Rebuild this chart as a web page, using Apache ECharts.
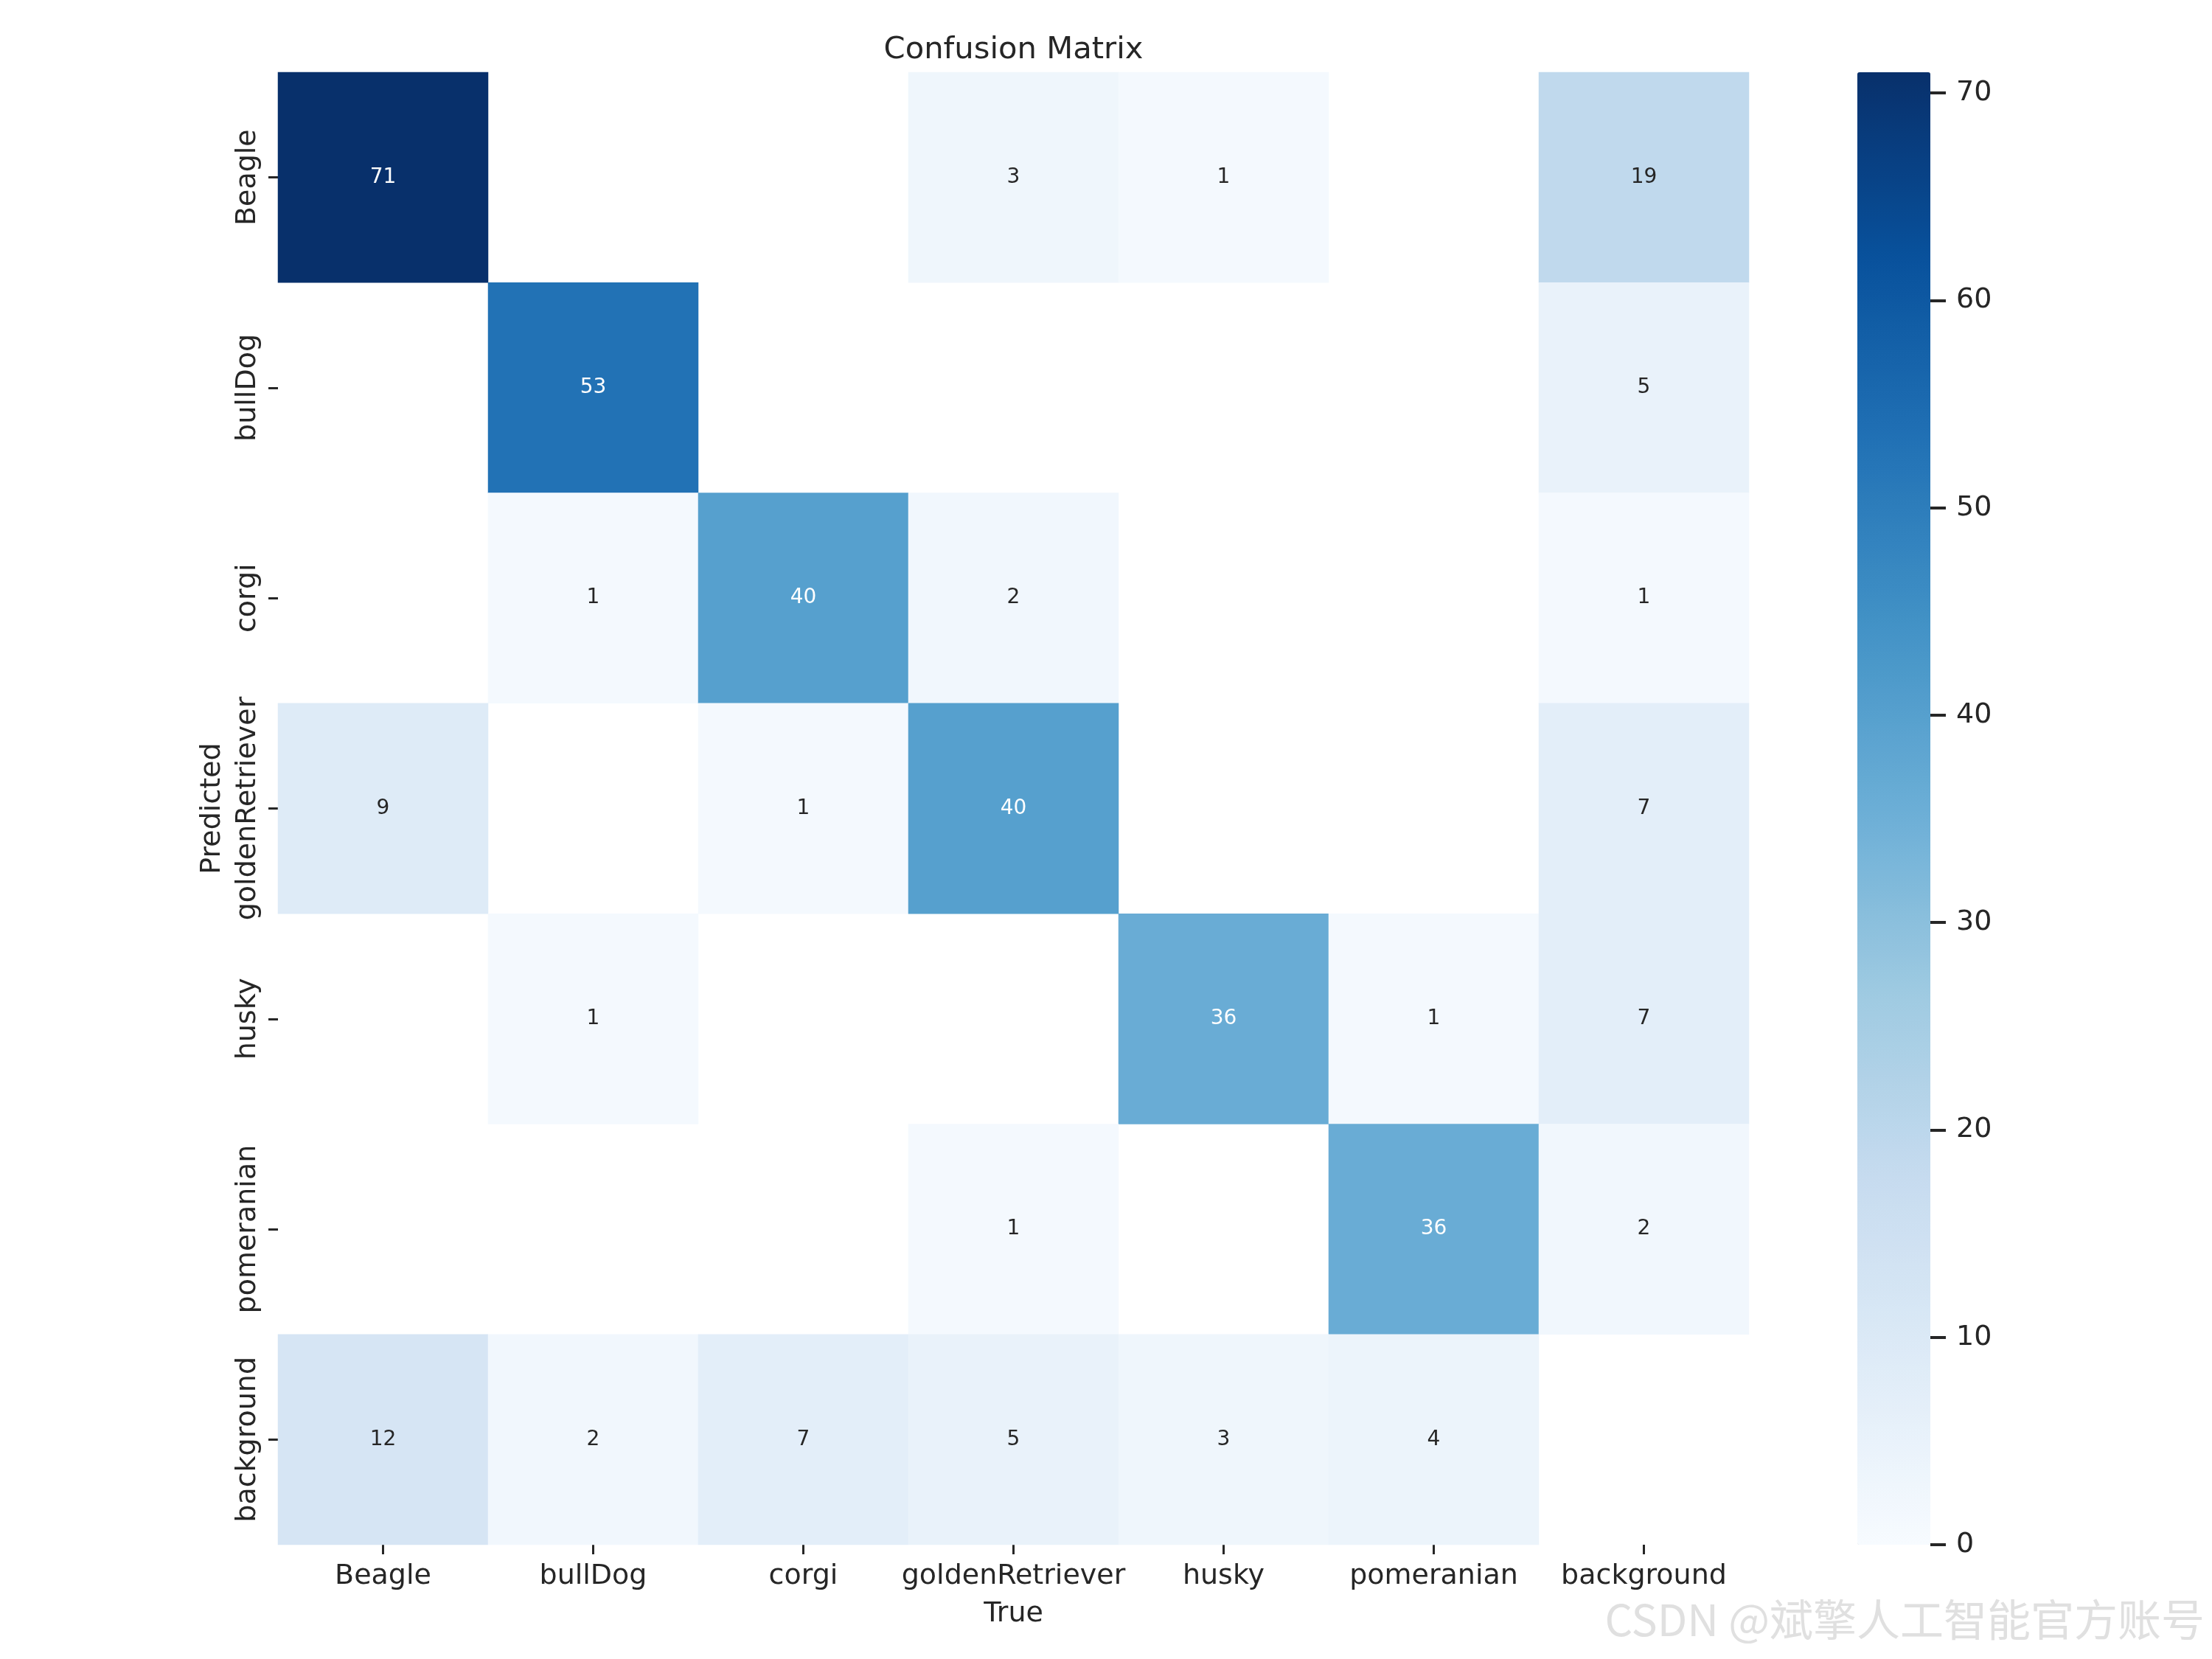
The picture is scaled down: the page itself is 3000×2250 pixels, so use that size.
<!DOCTYPE html>
<html>
<head>
<meta charset="utf-8">
<script src="https://cdn.jsdelivr.net/npm/echarts@6/dist/echarts.min.js"></script>
<style>
html,body{margin:0;padding:0;background:#fff;}
#chart{width:3000px;height:2250px;}
</style>
</head>
<body>
<div id="chart"></div>
<script>
// Categories (same order for Predicted rows and True columns)
const categories = ['Beagle', 'bullDog', 'corgi', 'goldenRetriever', 'husky', 'pomeranian', 'background'];

// Rows = Predicted, columns = True (0 = empty cell)
const predBeagle          = [71, 0, 0, 3, 1, 0, 19];
const predBullDog         = [0, 53, 0, 0, 0, 0, 5];
const predCorgi           = [0, 1, 40, 2, 0, 0, 1];
const predGoldenRetriever = [9, 0, 1, 40, 0, 0, 7];
const predHusky           = [0, 1, 0, 0, 36, 1, 7];
const predPomeranian      = [0, 0, 0, 1, 0, 36, 2];
const predBackground      = [12, 2, 7, 5, 3, 4, 0];

// Colorbar tick labels
const colorbarTicks = [0, 10, 20, 30, 40, 50, 60, 70];

const matrix = [predBeagle, predBullDog, predCorgi, predGoldenRetriever, predHusky, predPomeranian, predBackground];
const vmax = Math.max(...matrix.map(r => Math.max(...r)));
const tickMax = colorbarTicks[colorbarTicks.length - 1];
const tickStep = colorbarTicks[1] - colorbarTicks[0];

const blues = ['#f7fbff', '#deebf7', '#c6dbef', '#9ecae1', '#6baed6', '#4292c6', '#2171b5', '#08519c', '#08306b'];

const cells = [];
matrix.forEach((row, r) => {
  row.forEach((v, c) => {
    if (v > 0) {
      cells.push({
        value: [c, r, v],
        label: { color: (v / vmax) > 0.47 ? '#ffffff' : '#262626' }
      });
    }
  });
});

const FONT = 'DejaVu Sans';
const TXT = '#262626';

// layout
const PLOT_TOP = 98, PLOT_H = 1997;
const CB_LEFT = 2519, CB_W = 99;
const cbAxisH = PLOT_H * tickMax / vmax;
const cbAxisTop = PLOT_TOP + PLOT_H - cbAxisH;

const chart = echarts.init(document.getElementById('chart'), null, { renderer: 'canvas' });
chart.setOption({
  animation: false,
  backgroundColor: '#ffffff',
  textStyle: { fontFamily: FONT },
  title: {
    text: 'Confusion Matrix',
    left: 1374.5,
    textAlign: 'center',
    top: 47,
    padding: 0,
    textStyle: { fontFamily: FONT, fontSize: 41.7, fontWeight: 'normal', color: TXT }
  },
  grid: [
    { left: 377, top: PLOT_TOP, width: 1995, height: PLOT_H },
    { left: CB_LEFT, top: cbAxisTop, width: CB_W, height: cbAxisH }
  ],
  xAxis: [
    {
      type: 'category', gridIndex: 0, data: categories, position: 'bottom',
      name: 'True', nameLocation: 'middle', nameGap: 75,
      nameTextStyle: { fontFamily: FONT, fontSize: 38, color: TXT },
      axisLine: { show: false },
      axisTick: { show: true, alignWithLabel: true, length: 13, lineStyle: { color: TXT, width: 3 } },
      axisLabel: { fontFamily: FONT, fontSize: 38, color: TXT, margin: 24, interval: 0 },
      splitLine: { show: false }
    },
    { type: 'value', gridIndex: 1, show: false, min: 0, max: 1,
      axisLine: { show: false, onZero: false }, axisTick: { show: false }, axisLabel: { show: false }, splitLine: { show: false } }
  ],
  yAxis: [
    {
      type: 'category', gridIndex: 0, data: categories, inverse: true,
      name: 'Predicted', nameLocation: 'middle', nameGap: 70, nameRotate: 90,
      nameTextStyle: { fontFamily: FONT, fontSize: 38, color: TXT },
      axisLine: { show: false },
      axisTick: { show: true, alignWithLabel: true, length: 13, lineStyle: { color: TXT, width: 3 } },
      axisLabel: { fontFamily: FONT, fontSize: 38, color: TXT, margin: 22, rotate: 90, interval: 0 },
      splitLine: { show: false }
    },
    {
      type: 'value', gridIndex: 1, position: 'right', min: colorbarTicks[0], max: tickMax, interval: tickStep,
      axisLine: { show: false, onZero: false },
      axisTick: { show: true, inside: false, length: 21, lineStyle: { color: TXT, width: 4 } },
      axisLabel: { show: true, fontFamily: FONT, fontSize: 38, color: TXT, margin: 35, padding: [6, 0, 0, 0] },
      splitLine: { show: false },
      z: 10
    }
  ],
  visualMap: {
    type: 'continuous',
    min: 0, max: vmax,
    seriesIndex: 0,
    dimension: 2,
    orient: 'vertical',
    left: CB_LEFT, top: PLOT_TOP,
    itemWidth: CB_W, itemHeight: PLOT_H,
    padding: 0,
    calculable: false,
    hoverLink: false,
    showLabel: false,
    text: null,
    inRange: { color: blues },
    z: 1
  },
  series: [{
    type: 'heatmap',
    xAxisIndex: 0, yAxisIndex: 0,
    data: cells,
    itemStyle: { borderWidth: 0 },
    label: { show: true, fontFamily: FONT, fontSize: 28 },
    emphasis: { disabled: true }
  }],
  graphic: [{
    type: 'text',
    right: 10,
    top: 2167,
    style: {
      text: 'CSDN @斌擎人工智能官方账号',
      font: '59px "Noto Sans CJK SC"',
      fill: '#e0e0e0',
      shadowColor: 'rgba(0,0,0,0.45)',
      shadowBlur: 2,
      shadowOffsetX: 1.5,
      shadowOffsetY: 1.5
    }
  }]
});
</script>
</body>
</html>
